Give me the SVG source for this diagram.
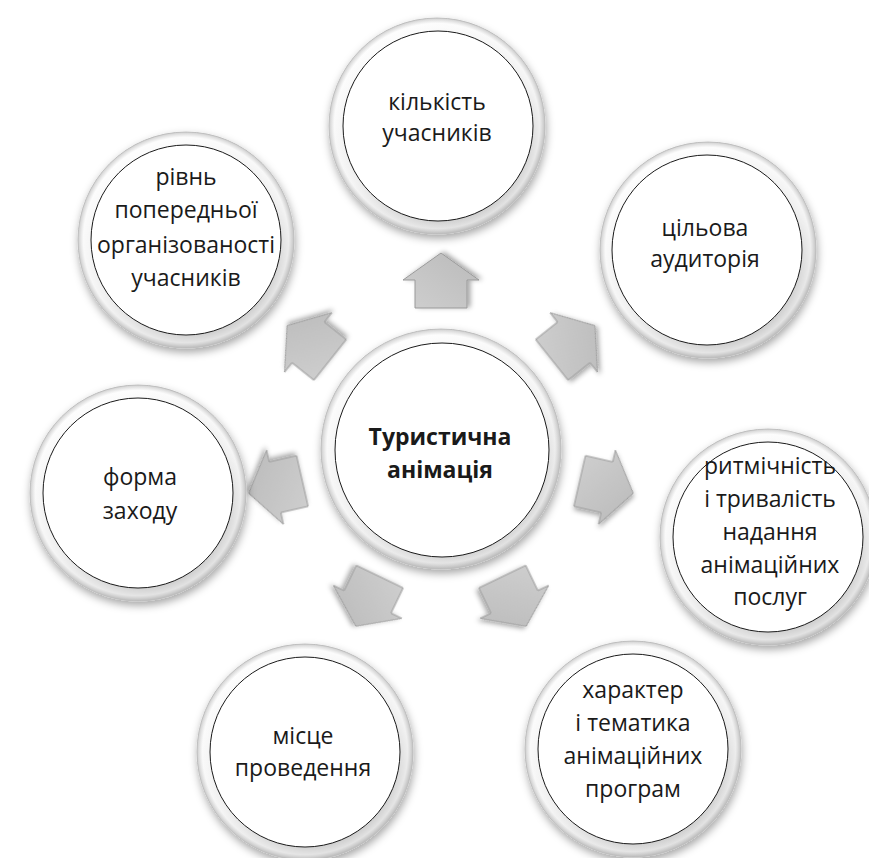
<svg xmlns="http://www.w3.org/2000/svg" width="869" height="858" viewBox="0 0 869 858">
<defs>
<linearGradient id="ringGrad" x1="0.2" y1="0" x2="0.75" y2="1">
<stop offset="0" stop-color="#ffffff"/>
<stop offset="0.55" stop-color="#ececec"/>
<stop offset="1" stop-color="#bdbdbd"/>
</linearGradient>
<radialGradient id="ringEdge" cx="0.5" cy="0.5" r="0.5">
<stop offset="0.86" stop-color="#ffffff" stop-opacity="0"/>
<stop offset="0.95" stop-color="#ffffff" stop-opacity="0.5"/>
<stop offset="1" stop-color="#b0b0b0" stop-opacity="0.6"/>
</radialGradient>
<linearGradient id="arrowGrad" x1="0" y1="0" x2="1" y2="1">
<stop offset="0" stop-color="#cfcfcf"/>
<stop offset="1" stop-color="#bababa"/>
</linearGradient>
<filter id="shadow" x="-20%" y="-20%" width="140%" height="150%">
<feDropShadow dx="1" dy="4" stdDeviation="4" flood-color="#000" flood-opacity="0.35"/>
</filter>
<filter id="ashadow" x="-30%" y="-30%" width="160%" height="160%">
<feDropShadow dx="1" dy="3" stdDeviation="2.5" flood-color="#000" flood-opacity="0.35"/>
</filter>
<polygon id="arr" points="-27,-26 1,-26 1,-38 28,0 1,38 1,26 -27,26"/>
</defs>
<style>
.ring{fill:url(#ringGrad);stroke:#c4c4c4;stroke-width:1;filter:url(#shadow)}
.edge{fill:url(#ringEdge)}
.inner{fill:#ffffff;stroke:#1a1a1a;stroke-width:1}
.t{font-family:"Open Sans","Noto Sans","DejaVu Sans",sans-serif;font-size:23px;fill:#1a1a1a;text-anchor:middle}
.b{font-weight:bold}
.a{fill:url(#arrowGrad);stroke:#9a9a9a;stroke-width:1;filter:url(#ashadow)}
</style>
<rect width="869" height="858" fill="#ffffff"/>

<g id="connectors">
<use href="#arr" class="a" transform="translate(441,281) rotate(-90)"/>
<use href="#arr" class="a" transform="translate(573,343) rotate(-38.57)"/>
<use href="#arr" class="a" transform="translate(606,487) rotate(12.86)"/>
<use href="#arr" class="a" transform="translate(514,601) rotate(64.29)"/>
<use href="#arr" class="a" transform="translate(368,601) rotate(115.71)"/>
<use href="#arr" class="a" transform="translate(276,487) rotate(167.14)"/>
<use href="#arr" class="a" transform="translate(309,343) rotate(218.57)"/>
</g>

<g id="center">
<circle class="ring" cx="441" cy="449" r="120"/>
<circle class="edge" cx="441" cy="449" r="120"/>
<circle class="inner" cx="442" cy="450" r="107"/>
<text class="t b" x="440" y="445">Туристична</text>
<text class="t b" x="440" y="478">анімація</text>
</g>

<g id="n-top">
<circle class="ring" cx="437" cy="126" r="108"/>
<circle class="edge" cx="437" cy="126" r="108"/>
<circle class="inner" cx="438" cy="126" r="95"/>
<text class="t" x="437" y="110">кількість</text>
<text class="t" x="437" y="141">учасників</text>
</g>

<g id="n-upper-right">
<circle class="ring" cx="708" cy="250" r="108"/>
<circle class="edge" cx="708" cy="250" r="108"/>
<circle class="inner" cx="707" cy="250" r="95"/>
<text class="t" x="705" y="236">цільова</text>
<text class="t" x="705" y="267">аудиторія</text>
</g>

<g id="n-right">
<circle class="ring" cx="768" cy="537" r="108"/>
<circle class="edge" cx="768" cy="537" r="108"/>
<circle class="inner" cx="768" cy="537" r="95"/>
<text class="t" x="770" y="474">ритмічність</text>
<text class="t" x="770" y="507">і тривалість</text>
<text class="t" x="770" y="540">надання</text>
<text class="t" x="770" y="573">анімаційних</text>
<text class="t" x="770" y="605">послуг</text>
</g>

<g id="n-lower-right">
<circle class="ring" cx="633" cy="749" r="108"/>
<circle class="edge" cx="633" cy="749" r="108"/>
<circle class="inner" cx="633" cy="749" r="95"/>
<text class="t" x="633" y="698">характер</text>
<text class="t" x="633" y="731">і тематика</text>
<text class="t" x="633" y="764">анімаційних</text>
<text class="t" x="633" y="797">програм</text>
</g>

<g id="n-lower-left">
<circle class="ring" cx="305" cy="752" r="108"/>
<circle class="edge" cx="305" cy="752" r="108"/>
<circle class="inner" cx="305" cy="752" r="95"/>
<text class="t" x="303" y="744">місце</text>
<text class="t" x="303" y="776">проведення</text>
</g>

<g id="n-left">
<circle class="ring" cx="138" cy="493" r="108"/>
<circle class="edge" cx="138" cy="493" r="108"/>
<circle class="inner" cx="138" cy="493" r="95"/>
<text class="t" x="140" y="485">форма</text>
<text class="t" x="140" y="519">заходу</text>
</g>

<g id="n-upper-left">
<circle class="ring" cx="186" cy="240" r="108"/>
<circle class="edge" cx="186" cy="240" r="108"/>
<circle class="inner" cx="186" cy="240" r="95"/>
<text class="t" x="186" y="185">рівнь</text>
<text class="t" x="186" y="218">попередньої</text>
<text class="t" x="186" y="253">організованості</text>
<text class="t" x="186" y="286">учасників</text>
</g>
</svg>
